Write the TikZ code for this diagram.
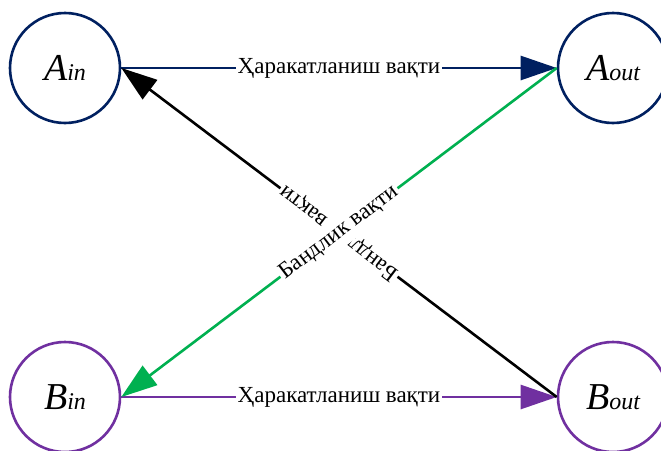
\documentclass[tikz,border=0pt]{standalone}
\usepackage{fontspec}
\setmainfont{Liberation Serif}
\usetikzlibrary{arrows.meta}

\definecolor{navy}{HTML}{002060}
\definecolor{plum}{HTML}{7030A0}
\definecolor{grn}{HTML}{00B050}

%% state label: big italic letter with a smaller italic index
\newcommand{\stname}[2]{\fontsize{38}{38}\selectfont\itshape #1{\fontsize{24}{24}\selectfont #2}}

\begin{document}
\begin{tikzpicture}[x=1pt,y=-1pt,
    state/.style={circle,draw=#1,line width=2.6pt,minimum size=110pt,inner sep=0pt,text=black},
    edge/.style={line width=2.6pt,-{Triangle[length=36pt,width=24pt]}},
    lbl/.style={fill=white,inner xsep=2pt,inner ysep=5pt,text=black,font=\fontsize{23}{23}\selectfont}]

    \useasboundingbox (0,0) rectangle (661,450);

    \node[state=navy] (ain)  at (65,68)   {\stname{A}{in}};
    \node[state=navy] (aout) at (613,68)  {\stname{A}{out}};
    \node[state=plum] (bin)  at (65,397)  {\stname{B}{in}};
    \node[state=plum] (bout) at (613,397) {\stname{B}{out}};

    \draw[edge,navy] (ain.east) -- node[lbl] {Ҳаракатланиш вақти} (aout.west);
    \draw[edge,plum] (bin.east) -- node[lbl] {Ҳаракатланиш вақти} (bout.west);
    \draw[edge,black] (bout.west) -- node[lbl,sloped,allow upside down] {Бандлик вақти} (ain.east);    %% label ends up upside down
    \draw[edge,grn] (aout.west) -- node[lbl,sloped] {Бандлик вақти} (bin.east);
\end{tikzpicture}
\end{document}
